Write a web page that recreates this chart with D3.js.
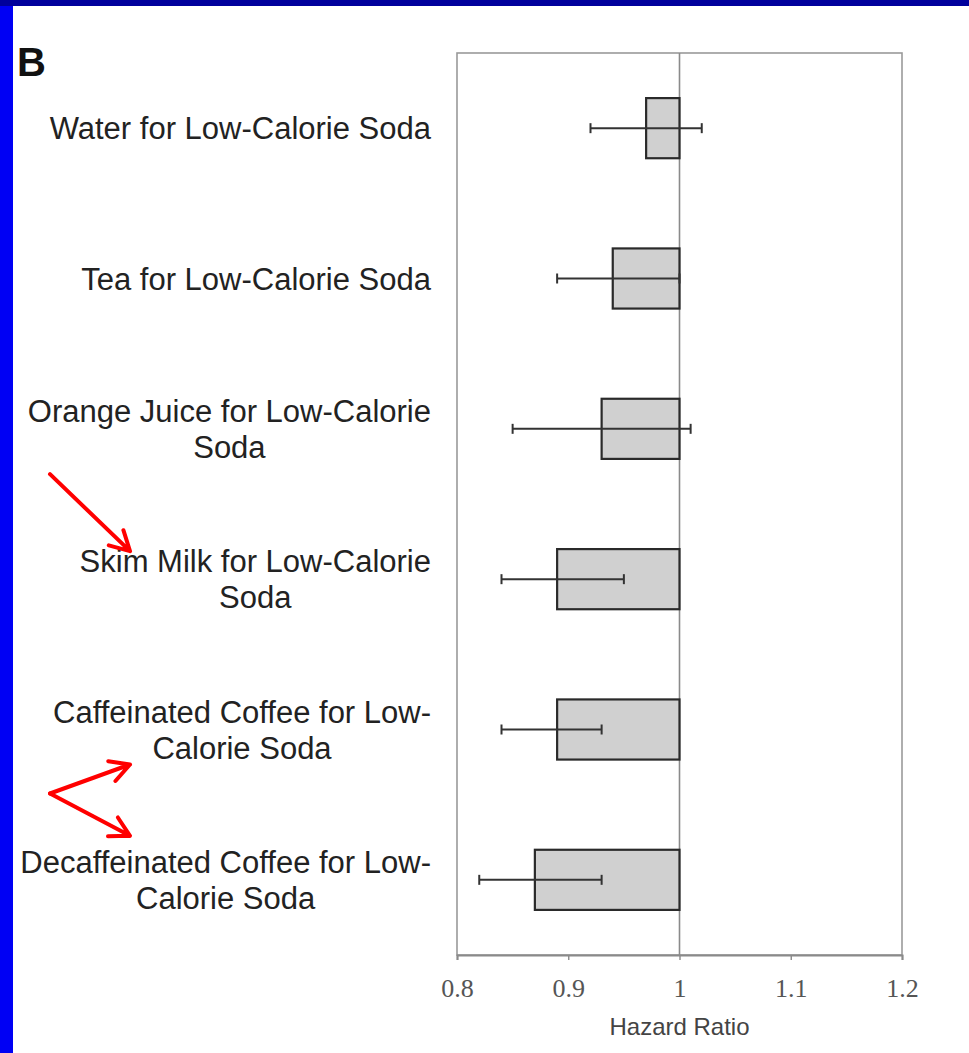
<!DOCTYPE html>
<html>
<head>
<meta charset="utf-8">
<script src="https://cdn.jsdelivr.net/npm/d3@7"></script>
<style>
  html, body { margin: 0; padding: 0; background: #fff; }
  svg { display: block; }
</style>
</head>
<body>
<div id="chart"></div>
<script>
const width = 969;
const height = 1053;

// data
const categories = [
  ['Water for Low-Calorie Soda'],
  ['Tea for Low-Calorie Soda'],
  ['Orange Juice for Low-Calorie', 'Soda'],
  ['Skim Milk for Low-Calorie', 'Soda'],
  ['Caffeinated Coffee for Low-', 'Calorie Soda'],
  ['Decaffeinated Coffee for Low-', 'Calorie Soda']
];
const hazardRatio = [0.97, 0.94, 0.93, 0.89, 0.89, 0.87];
const ciLow = [0.92, 0.89, 0.85, 0.84, 0.84, 0.82];
const ciHigh = [1.02, 1.00, 1.01, 0.95, 0.93, 0.93];
const xTicks = [0.8, 0.9, 1, 1.1, 1.2];

const plot = { left: 457, right: 902, top: 53, bottom: 955 };

const svg = d3.select('#chart')
  .append('svg')
  .attr('width', width)
  .attr('height', height);

// slide frame
svg.append('rect').attr('x', 0).attr('y', 0).attr('width', width).attr('height', height).attr('fill', '#fff');
svg.append('rect').attr('x', 0).attr('y', 0).attr('width', 13).attr('height', height).attr('fill', '#0000f4');
svg.append('rect').attr('x', 0).attr('y', 0).attr('width', width).attr('height', 6).attr('fill', '#00009c');

svg.append('text')
  .attr('x', 17).attr('y', 76)
  .attr('font-family', 'Liberation Sans, Arial, sans-serif')
  .attr('font-weight', 'bold')
  .attr('font-size', 40)
  .attr('fill', '#111')
  .text('B');

const x = d3.scaleLinear().domain([0.8, 1.2]).range([plot.left, plot.right]);
const y = d3.scaleBand()
  .domain(d3.range(categories.length))
  .range([plot.top, plot.bottom])
  .paddingInner(0.6)
  .paddingOuter(0.3);

const rowCenter = i => y(i) + y.bandwidth() / 2;

// frame and reference line
svg.append('rect')
  .attr('x', plot.left).attr('y', plot.top)
  .attr('width', plot.right - plot.left).attr('height', plot.bottom - plot.top)
  .attr('fill', 'none')
  .attr('stroke', '#9a9a9a')
  .attr('stroke-width', 1.6);

svg.append('line')
  .attr('x1', x(1)).attr('x2', x(1))
  .attr('y1', plot.top).attr('y2', plot.bottom)
  .attr('stroke', '#8a8a8a')
  .attr('stroke-width', 1.6);

// x axis
const xAxis = svg.append('g')
  .attr('transform', `translate(0,${plot.bottom})`)
  .call(d3.axisBottom(x).tickValues(xTicks).tickSize(5).tickPadding(19).tickFormat(d3.format('')));
xAxis.select('.domain').attr('stroke', '#8a8a8a').attr('stroke-width', 2);
xAxis.selectAll('.tick line').attr('stroke', '#8a8a8a').attr('stroke-width', 1.4);
xAxis.selectAll('.tick text')
  .attr('font-family', 'Liberation Serif, Times New Roman, serif')
  .attr('font-size', 26)
  .attr('fill', '#555');

svg.append('text')
  .attr('x', x(1)).attr('y', 1035)
  .attr('text-anchor', 'middle')
  .attr('font-family', 'Liberation Sans, Arial, sans-serif')
  .attr('font-size', 24)
  .attr('fill', '#444')
  .text('Hazard Ratio');

// bars
svg.append('g').selectAll('rect')
  .data(hazardRatio)
  .join('rect')
  .attr('x', d => x(d))
  .attr('y', (d, i) => y(i))
  .attr('width', d => x(1) - x(d))
  .attr('height', y.bandwidth())
  .attr('fill', '#d0d0d0')
  .attr('stroke', '#2a2a2a')
  .attr('stroke-width', 2.2);

// error bars
const err = svg.append('g').selectAll('g')
  .data(hazardRatio.map((d, i) => ({ lo: ciLow[i], hi: ciHigh[i], i })))
  .join('g')
  .attr('stroke', '#333')
  .attr('stroke-width', 2);
err.append('line')
  .attr('x1', d => x(d.lo)).attr('x2', d => x(d.hi))
  .attr('y1', d => rowCenter(d.i)).attr('y2', d => rowCenter(d.i));
err.append('line')
  .attr('x1', d => x(d.lo)).attr('x2', d => x(d.lo))
  .attr('y1', d => rowCenter(d.i) - 5).attr('y2', d => rowCenter(d.i) + 5);
err.append('line')
  .attr('x1', d => x(d.hi)).attr('x2', d => x(d.hi))
  .attr('y1', d => rowCenter(d.i) - 5).attr('y2', d => rowCenter(d.i) + 5);

// category labels: block right-aligned, lines centred within the block
const labelRight = 431;
const lineGap = 36;
const labels = svg.append('g')
  .attr('font-family', 'Liberation Sans, Arial, sans-serif')
  .attr('font-size', 31)
  .attr('fill', '#222');
categories.forEach((lines, i) => {
  const t = labels.append('text')
    .attr('text-anchor', 'middle')
    .attr('dominant-baseline', 'central');
  const spans = lines.map((ln, k) => t.append('tspan')
    .attr('y', rowCenter(i) + (k - (lines.length - 1) / 2) * lineGap)
    .text(ln));
  const maxW = d3.max(spans, s => s.node().getComputedTextLength());
  spans.forEach(s => s.attr('x', labelRight - maxW / 2));
});

// red arrows pointing at the labels
const arrows = [
  { x1: 50, y1: rowCenter(3) - 105, x2: 130, y2: rowCenter(3) - 28 },
  { x1: 50, y1: rowCenter(4) + 64, x2: 130, y2: rowCenter(4) + 35 },
  { x1: 50, y1: rowCenter(4) + 64, x2: 130, y2: rowCenter(5) - 44 }
];
const ag = svg.append('g')
  .attr('stroke', '#ff0000')
  .attr('stroke-width', 4)
  .attr('fill', 'none')
  .attr('stroke-linecap', 'round')
  .attr('stroke-linejoin', 'round');
arrows.forEach(a => {
  const ang = Math.atan2(a.y2 - a.y1, a.x2 - a.x1);
  const len = 22, spread = 0.5;
  const b1 = [a.x2 - len * Math.cos(ang - spread), a.y2 - len * Math.sin(ang - spread)];
  const b2 = [a.x2 - len * Math.cos(ang + spread), a.y2 - len * Math.sin(ang + spread)];
  ag.append('path')
    .attr('d', `M${a.x1},${a.y1}L${a.x2},${a.y2}M${b1[0]},${b1[1]}L${a.x2},${a.y2}L${b2[0]},${b2[1]}`);
});
</script>
</body>
</html>
